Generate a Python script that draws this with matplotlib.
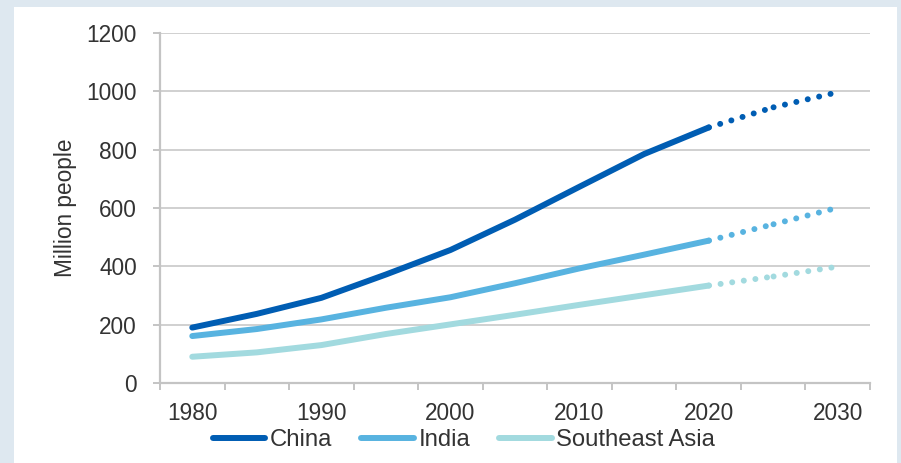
import matplotlib
matplotlib.use("Agg")
import matplotlib.pyplot as plt
from matplotlib.patches import Rectangle

plt.rcParams['font.family'] = ['Liberation Sans', 'DejaVu Sans']

# categories every 5 years, labels on every other one
years = [1980, 1985, 1990, 1995, 2000, 2005, 2010, 2015, 2020, 2025, 2030]
year_labels = ['1980', '1990', '2000', '2010', '2020', '2030']

# million people, actual through 2020, projected after
china = [190, 237, 292, 372, 456, 560, 673, 785, 876, 945, 997]
india = [161, 185, 218, 258, 294, 342, 393, 440, 488, 544, 601]
se_asia = [90, 105, 130, 168, 201, 234, 268, 301, 334, 365, 399]

names = ['China', 'India', 'Southeast Asia']
colors = ['#005DB3', '#58B3E0', '#A2DADF']
n_actual = 9  # 1980..2020

fig = plt.figure(figsize=(9.01, 4.63), dpi=100)
fig.patch.set_facecolor('#DEE8F0')
fig.patches.append(Rectangle((14 / 901, 0), (897 - 14) / 901, 1 - 7 / 463,
                             transform=fig.transFigure, facecolor='white',
                             edgecolor='none', zorder=-10))

ax = fig.add_axes([160 / 901, 1 - 383 / 463, 710 / 901, 350 / 463])
ax.set_facecolor('none')

x = list(range(len(years)))
for vals, name, c in zip([china, india, se_asia], names, colors):
    ax.plot(x[:n_actual], vals[:n_actual], color=c, lw=4.3,
            solid_capstyle='round', solid_joinstyle='round', label=name, zorder=3)
    # projections, drawn segment by segment like the original
    for i in range(n_actual - 1, len(years) - 1):
        ax.plot(x[i:i + 2], vals[i:i + 2], color=c, lw=4.3,
                linestyle=(1.9, (0.01, 1.95)), dash_capstyle='round', zorder=3)

ax.set_xlim(-0.5, len(years) - 0.5)
ax.set_ylim(0, 1200)
ax.set_yticks(range(0, 1201, 200))
ax.set_xticks(x[::2])
ax.set_xticklabels(year_labels)
ax.set_xticks([i - 0.5 for i in range(len(years) + 1)], minor=True)

grey = '#C4C4C4'
ax.grid(axis='y', color=grey, lw=1.1, zorder=0)
for s in ['top', 'right']:
    ax.spines[s].set_visible(False)
for s in ['left', 'bottom']:
    ax.spines[s].set_color(grey)
    ax.spines[s].set_linewidth(1.6)

ax.tick_params(axis='y', length=5, width=1.4, color=grey, pad=11.5,
               labelsize=16.3, labelcolor='#333333')
ax.tick_params(axis='x', which='major', length=0, pad=14,
               labelsize=16.3, labelcolor='#333333')
ax.tick_params(axis='x', which='minor', length=5, width=1.4, color=grey)

ax.set_ylabel('Million people', fontsize=16.3, color='#333333', labelpad=7)

ax.legend(loc='center', bbox_to_anchor=(464 / 901, 1 - 440 / 463),
          bbox_transform=fig.transFigure, ncol=3, frameon=False,
          fontsize=17.2, handlelength=2.2, handletextpad=0.2,
          columnspacing=1.2, labelcolor='#333333')

fig.savefig('out.png', dpi=100)
